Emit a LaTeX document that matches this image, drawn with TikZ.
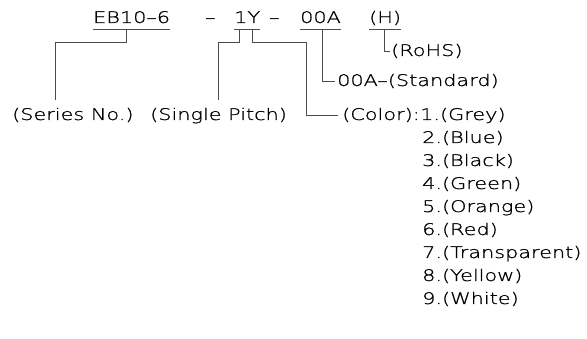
\documentclass[tikz,border=0pt]{standalone}
\usepackage{fontspec}
\setmainfont{DejaVu Sans ExtraLight}[FakeStretch=1.3,FakeBold=1]
\usetikzlibrary{positioning}

\begin{document}
\begin{tikzpicture}[x=1pt,y=-1pt,
 lbl/.style={inner sep=0pt,anchor=base west,font=\fontsize{16}{19}\selectfont},
 lead/.style={draw=black!70,line width=0.8pt}]
\useasboundingbox (0,0) rectangle (587,339);
% part number
\node[lbl] (eb) at (93,23) {EB10–6};
\node[lbl] (dasha) at (205,23) {–};
\node[lbl] (pitchcode) at (234,23) {1Y};
\node[lbl] (dashb) at (269,23) {–};
\node[lbl] (stdcode) at (300,23) {00A};
\node[lbl] (hcode) at (369,23) {(H)};
\foreach \n in {eb,pitchcode,stdcode,hcode}
  \draw[lead] ([yshift=-6pt]\n.base west) -- ([yshift=-6pt]\n.base east);
\coordinate (ebtap) at (126,29);
\coordinate (onetap) at (239,29);
\coordinate (ytap) at (252,29);
\coordinate (stdtap) at (322,29);
\coordinate (htap) at (384,29);
% descriptions
\node[lbl] (series) at (12,120) {(Series No.)};
\node[lbl] (pitch) at (150,120) {(Single Pitch)};
\node[lbl] (c1) at (420,120) {1.(Grey)};
\node[lbl,anchor=base east] (color) at (c1.base west) {(Color):};
\node[lbl] (standard) at (337,86) {00A–(Standard)};
\node[lbl] (rohs) at (391,56) {(RoHS)};
\foreach \i/\c in {2/Blue,3/Black,4/Green,5/Orange,6/Red,7/Transparent,8/Yellow,9/White}
  \node[lbl] (c\i) at (422,{120+23*(\i-1)}) {\i.(\c)};
% leaders
\draw[lead] (ebtap) -- ++(0,13) -| ([xshift=43pt,yshift=20pt]series.base west);
\draw[lead] (onetap) -- ++(0,13) -| ([xshift=68pt,yshift=20pt]pitch.base west);
\draw[lead] (ytap) |- (306,42) |- ([xshift=-4pt]color.west);
\draw[lead] (stdtap) |- ([xshift=-2pt]standard.west);
\draw[lead] (htap) |- ([xshift=-1pt]rohs.west);
\end{tikzpicture}
\end{document}
